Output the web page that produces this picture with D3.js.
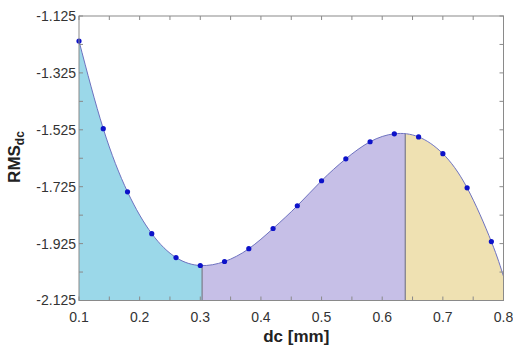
<!DOCTYPE html>
<html>
<head>
<meta charset="utf-8">
<script src="https://cdn.jsdelivr.net/npm/d3@7"></script>
<style>
  body { margin: 0; background: #fff; }
  svg { display: block; font-family: "Liberation Sans", Arial, sans-serif; }
</style>
</head>
<body>
<svg width="513" height="350"></svg>
<script>
const dcValues = [0.10, 0.14, 0.18, 0.22, 0.26, 0.30, 0.34, 0.38, 0.42, 0.46, 0.50, 0.54, 0.58, 0.62, 0.66, 0.70, 0.74, 0.78];
const rmsValues = [-1.213, -1.521, -1.743, -1.890, -1.974, -2.002, -1.988, -1.943, -1.872, -1.792, -1.704, -1.627, -1.567, -1.539, -1.550, -1.609, -1.729, -1.918];

// fitted curve end value at dc = 0.8
const curveEndX = 0.8;
const curveEndY = -2.040;

// region boundaries (min and max of the fit)
const regionBounds = [0.1, 0.303, 0.638, 0.8];
const regionColors = ["#9bd8e9", "#c6bfe7", "#efe1b2"];

const yTicks = [-2.125, -1.925, -1.725, -1.525, -1.325, -1.125];
const yMinor = [-2.025, -1.825, -1.625, -1.425, -1.225];
const xTicks = [0.1, 0.2, 0.3, 0.4, 0.5, 0.6, 0.7, 0.8];
const xMinor = [0.15, 0.25, 0.35, 0.45, 0.55, 0.65, 0.75];

const svg = d3.select("svg"),
    width = +svg.attr("width"),
    height = +svg.attr("height");

const margin = { top: 16, right: 9.5, bottom: 49.5, left: 79 };
const x = d3.scaleLinear().domain([0.1, 0.8]).range([margin.left, width - margin.right]);
const y = d3.scaleLinear().domain([-2.125, -1.125]).range([height - margin.bottom, margin.top]);

const curvePts = dcValues.map((d, i) => [d, rmsValues[i]]).concat([[curveEndX, curveEndY]]);

// area under the curve, used as a clip for the coloured regions
const area = d3.area()
    .x(d => x(d[0]))
    .y0(y(-2.125))
    .y1(d => y(d[1]))
    .curve(d3.curveNatural);

svg.append("clipPath").attr("id", "under")
  .append("path").attr("d", area(curvePts));

const g = svg.append("g").attr("clip-path", "url(#under)");

g.selectAll(".region")
  .data(regionColors)
  .enter()
  .append("rect")
  .attr("x", (c, i) => x(regionBounds[i]))
  .attr("width", (c, i) => x(regionBounds[i + 1]) - x(regionBounds[i]))
  .attr("y", y(-1.125))
  .attr("height", y(-2.125) - y(-1.125))
  .attr("fill", c => c);

// vertical divider lines, clipped to the area
g.selectAll(".divider")
  .data(regionBounds.slice(1, 3))
  .enter()
  .append("line")
  .attr("x1", d => x(d)).attr("x2", d => x(d))
  .attr("y1", y(-1.125)).attr("y2", y(-2.125))
  .attr("stroke", "#7a7a88")
  .attr("stroke-width", 1.2);

// the fitted curve
const line = d3.line()
    .x(d => x(d[0]))
    .y(d => y(d[1]))
    .curve(d3.curveNatural);

svg.append("path")
  .attr("d", line(curvePts))
  .attr("fill", "none")
  .attr("stroke", "#6e72c0")
  .attr("stroke-width", 1);

// dots
svg.selectAll(".dot")
  .data(dcValues)
  .enter()
  .append("circle")
  .attr("cx", d => x(d))
  .attr("cy", (d, i) => y(rmsValues[i]))
  .attr("r", 2.6)
  .attr("fill", "#0d12c9");

// frame
const x0 = x(0.1), x1 = x(0.8), yTop = y(-1.125), yBot = y(-2.125);
svg.append("rect")
  .attr("x", x0).attr("y", yTop)
  .attr("width", x1 - x0).attr("height", yBot - yTop)
  .attr("fill", "none")
  .attr("stroke", "#8a8a8a")
  .attr("stroke-width", 1);

// inward ticks on all four sides
const tickLen = 4;
const allX = xTicks.concat(xMinor);
const allY = yTicks.concat(yMinor);
svg.selectAll(".xtb").data(allX).enter().append("line")
  .attr("x1", d => x(d)).attr("x2", d => x(d))
  .attr("y1", yBot).attr("y2", yBot - tickLen)
  .attr("stroke", "#8a8a8a");
svg.selectAll(".xtt").data(allX).enter().append("line")
  .attr("x1", d => x(d)).attr("x2", d => x(d))
  .attr("y1", yTop).attr("y2", yTop + tickLen)
  .attr("stroke", "#8a8a8a");
svg.selectAll(".ytl").data(allY).enter().append("line")
  .attr("x1", x0).attr("x2", x0 + tickLen)
  .attr("y1", d => y(d)).attr("y2", d => y(d))
  .attr("stroke", "#8a8a8a");
svg.selectAll(".ytr").data(allY).enter().append("line")
  .attr("x1", x1).attr("x2", x1 - tickLen)
  .attr("y1", d => y(d)).attr("y2", d => y(d))
  .attr("stroke", "#8a8a8a");

// tick labels
svg.selectAll(".ylab").data(yTicks).enter().append("text")
  .attr("x", x0 - 3)
  .attr("y", d => y(d))
  .attr("dy", "0.35em")
  .attr("text-anchor", "end")
  .attr("font-size", 14)
  .attr("fill", "#333")
  .text(d => d3.format(".3f")(d).replace("−", "-"));

svg.selectAll(".xlab").data(xTicks).enter().append("text")
  .attr("x", d => x(d))
  .attr("y", yBot + 21)
  .attr("text-anchor", "middle")
  .attr("font-size", 14)
  .attr("fill", "#333")
  .text(d => d3.format(".1f")(d));

// axis titles
svg.append("text")
  .attr("x", (x0 + x1) / 2 + 5)
  .attr("y", 342)
  .attr("text-anchor", "middle")
  .attr("font-size", 17)
  .attr("font-weight", "bold")
  .attr("fill", "#222")
  .text("dc [mm]");

const yt = svg.append("text")
  .attr("transform", "translate(20,157) rotate(-90)")
  .attr("text-anchor", "middle")
  .attr("font-size", 17)
  .attr("font-weight", "bold")
  .attr("fill", "#222");
yt.append("tspan").text("RMS");
yt.append("tspan").attr("font-size", 12).attr("dy", 4).text("dc");
</script>
</body>
</html>
